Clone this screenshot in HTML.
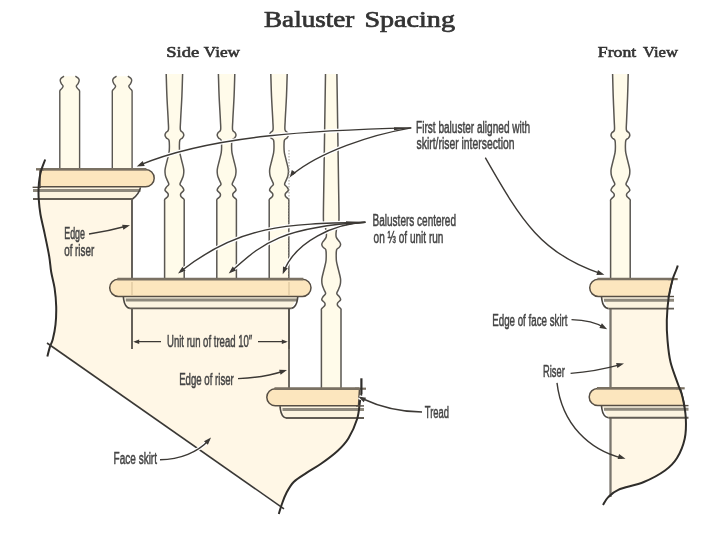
<!DOCTYPE html>
<html><head><meta charset="utf-8"><style>
html,body{margin:0;padding:0;background:#fff;}
svg{display:block;filter:blur(0.3px);}
</style></head><body>
<svg width="720" height="548" viewBox="0 0 720 548">
<rect width="720" height="548" fill="#fff"/>
<path d="M41.40,169.60 C41.08,171.05 39.97,175.20 39.50,178.30 C39.03,181.40 38.73,184.82 38.60,188.20 C38.47,191.58 38.40,194.30 38.70,198.60 C39.00,202.90 39.38,208.03 40.40,214.00 C41.42,219.97 43.33,227.35 44.80,234.40 C46.27,241.45 48.13,250.03 49.20,256.30 C50.27,262.57 50.30,266.68 51.20,272.00 C52.10,277.32 53.77,282.45 54.60,288.20 C55.43,293.95 56.05,300.42 56.20,306.50 C56.35,312.58 56.07,319.23 55.50,324.70 C54.93,330.17 53.72,335.65 52.80,339.30 C51.88,342.95 50.47,345.38 50.00,346.60 L283,507 L281.9,504.0 C282.65,502.17 284.43,496.67 286.40,493.00 C288.37,489.33 290.35,485.35 293.70,482.00 C297.05,478.65 301.95,475.93 306.50,472.90 C311.05,469.87 315.83,467.45 321.00,463.80 C326.17,460.15 332.92,455.27 337.50,451.00 C342.08,446.73 345.22,443.57 348.50,438.20 C351.78,432.83 355.28,424.95 357.20,418.80 C359.12,412.65 359.30,405.43 360.00,401.30 C360.70,397.17 361.17,395.22 361.40,394.00 L361.4,390 L289,390 L289,300 L132,300 L132,170 Z" fill="#fff7e6"/>
<path d="M64.00,76.20 C63.52,76.53 61.73,77.47 61.10,78.20 C60.47,78.93 60.17,79.70 60.20,80.60 C60.23,81.50 60.82,82.70 61.30,83.60 C61.78,84.50 62.97,85.23 63.10,86.00 C63.23,86.77 62.57,87.53 62.10,88.20 C61.63,88.87 60.68,89.50 60.30,90.00 C59.92,90.50 59.88,90.62 59.80,91.20 C59.72,91.78 59.80,93.12 59.80,93.50 L59.80,170.00 L79.60,170.00 L79.60,93.50 C79.60,93.12 79.68,91.78 79.60,91.20 C79.52,90.62 79.48,90.50 79.10,90.00 C78.72,89.50 77.77,88.87 77.30,88.20 C76.83,87.53 76.17,86.77 76.30,86.00 C76.43,85.23 77.62,84.50 78.10,83.60 C78.58,82.70 79.17,81.50 79.20,80.60 C79.23,79.70 78.93,78.93 78.30,78.20 C77.67,77.47 75.88,76.53 75.40,76.20 Z" fill="#fffbea"/>
<path d="M64.00,76.20 C63.52,76.53 61.73,77.47 61.10,78.20 C60.47,78.93 60.17,79.70 60.20,80.60 C60.23,81.50 60.82,82.70 61.30,83.60 C61.78,84.50 62.97,85.23 63.10,86.00 C63.23,86.77 62.57,87.53 62.10,88.20 C61.63,88.87 60.68,89.50 60.30,90.00 C59.92,90.50 59.88,90.62 59.80,91.20 C59.72,91.78 59.80,93.12 59.80,93.50 L59.80,170.00" fill="none" stroke="#5a5752" stroke-width="1.40" />
<path d="M75.40,76.20 C75.88,76.53 77.67,77.47 78.30,78.20 C78.93,78.93 79.23,79.70 79.20,80.60 C79.17,81.50 78.58,82.70 78.10,83.60 C77.62,84.50 76.43,85.23 76.30,86.00 C76.17,86.77 76.83,87.53 77.30,88.20 C77.77,88.87 78.72,89.50 79.10,90.00 C79.48,90.50 79.52,90.62 79.60,91.20 C79.68,91.78 79.60,93.12 79.60,93.50 L79.60,170.00" fill="none" stroke="#5a5752" stroke-width="1.40" />
<path d="M116.50,76.20 C116.02,76.53 114.23,77.47 113.60,78.20 C112.97,78.93 112.67,79.70 112.70,80.60 C112.73,81.50 113.32,82.70 113.80,83.60 C114.28,84.50 115.47,85.23 115.60,86.00 C115.73,86.77 115.07,87.53 114.60,88.20 C114.13,88.87 113.18,89.50 112.80,90.00 C112.42,90.50 112.38,90.62 112.30,91.20 C112.22,91.78 112.30,93.12 112.30,93.50 L112.30,170.00 L132.10,170.00 L132.10,93.50 C132.10,93.12 132.18,91.78 132.10,91.20 C132.02,90.62 131.98,90.50 131.60,90.00 C131.22,89.50 130.27,88.87 129.80,88.20 C129.33,87.53 128.67,86.77 128.80,86.00 C128.93,85.23 130.12,84.50 130.60,83.60 C131.08,82.70 131.67,81.50 131.70,80.60 C131.73,79.70 131.43,78.93 130.80,78.20 C130.17,77.47 128.38,76.53 127.90,76.20 Z" fill="#fffbea"/>
<path d="M116.50,76.20 C116.02,76.53 114.23,77.47 113.60,78.20 C112.97,78.93 112.67,79.70 112.70,80.60 C112.73,81.50 113.32,82.70 113.80,83.60 C114.28,84.50 115.47,85.23 115.60,86.00 C115.73,86.77 115.07,87.53 114.60,88.20 C114.13,88.87 113.18,89.50 112.80,90.00 C112.42,90.50 112.38,90.62 112.30,91.20 C112.22,91.78 112.30,93.12 112.30,93.50 L112.30,170.00" fill="none" stroke="#5a5752" stroke-width="1.40" />
<path d="M127.90,76.20 C128.38,76.53 130.17,77.47 130.80,78.20 C131.43,78.93 131.73,79.70 131.70,80.60 C131.67,81.50 131.08,82.70 130.60,83.60 C130.12,84.50 128.93,85.23 128.80,86.00 C128.67,86.77 129.33,87.53 129.80,88.20 C130.27,88.87 131.22,89.50 131.60,90.00 C131.98,90.50 132.02,90.62 132.10,91.20 C132.18,91.78 132.10,93.12 132.10,93.50 L132.10,170.00" fill="none" stroke="#5a5752" stroke-width="1.40" />
<path d="M166.20,74.00 C166.32,77.67 166.57,88.28 166.90,96.00 C167.23,103.72 167.95,114.65 168.20,120.30 C168.45,125.95 168.78,127.85 168.40,129.90 C168.02,131.95 166.47,131.70 165.90,132.60 C165.33,133.50 164.92,134.40 165.00,135.30 C165.08,136.20 165.73,137.17 166.40,138.00 C167.07,138.83 168.50,138.75 169.00,140.30 C169.50,141.85 169.40,145.22 169.40,147.30 C169.40,149.38 169.37,150.63 169.00,152.80 C168.63,154.97 167.85,157.55 167.20,160.30 C166.55,163.05 165.40,166.80 165.10,169.30 C164.80,171.80 165.02,173.42 165.40,175.30 C165.78,177.18 166.83,179.10 167.40,180.60 C167.97,182.10 168.97,183.22 168.80,184.30 C168.63,185.38 167.03,186.10 166.40,187.10 C165.77,188.10 164.73,189.22 165.00,190.30 C165.27,191.38 167.52,192.60 168.00,193.60 C168.48,194.60 168.32,195.47 167.90,196.30 C167.48,197.13 166.05,198.00 165.50,198.60 C164.95,199.20 164.75,199.45 164.60,199.90 C164.45,200.35 164.60,201.07 164.60,201.30 L164.60,280.00 L184.20,280.00 L184.20,201.30 C184.20,201.07 184.35,200.35 184.20,199.90 C184.05,199.45 183.85,199.20 183.30,198.60 C182.75,198.00 181.32,197.13 180.90,196.30 C180.48,195.47 180.32,194.60 180.80,193.60 C181.28,192.60 183.53,191.38 183.80,190.30 C184.07,189.22 183.03,188.10 182.40,187.10 C181.77,186.10 180.17,185.38 180.00,184.30 C179.83,183.22 180.83,182.10 181.40,180.60 C181.97,179.10 183.02,177.18 183.40,175.30 C183.78,173.42 184.00,171.80 183.70,169.30 C183.40,166.80 182.25,163.05 181.60,160.30 C180.95,157.55 180.17,154.97 179.80,152.80 C179.43,150.63 179.40,149.38 179.40,147.30 C179.40,145.22 179.30,141.85 179.80,140.30 C180.30,138.75 181.73,138.83 182.40,138.00 C183.07,137.17 183.72,136.20 183.80,135.30 C183.88,134.40 183.47,133.50 182.90,132.60 C182.33,131.70 180.78,131.95 180.40,129.90 C180.02,127.85 180.35,125.95 180.60,120.30 C180.85,114.65 181.57,103.72 181.90,96.00 C182.23,88.28 182.48,77.67 182.60,74.00 Z" fill="#fffbea"/>
<path d="M166.20,74.00 C166.32,77.67 166.57,88.28 166.90,96.00 C167.23,103.72 167.95,114.65 168.20,120.30 C168.45,125.95 168.78,127.85 168.40,129.90 C168.02,131.95 166.47,131.70 165.90,132.60 C165.33,133.50 164.92,134.40 165.00,135.30 C165.08,136.20 165.73,137.17 166.40,138.00 C167.07,138.83 168.50,138.75 169.00,140.30 C169.50,141.85 169.40,145.22 169.40,147.30 C169.40,149.38 169.37,150.63 169.00,152.80 C168.63,154.97 167.85,157.55 167.20,160.30 C166.55,163.05 165.40,166.80 165.10,169.30 C164.80,171.80 165.02,173.42 165.40,175.30 C165.78,177.18 166.83,179.10 167.40,180.60 C167.97,182.10 168.97,183.22 168.80,184.30 C168.63,185.38 167.03,186.10 166.40,187.10 C165.77,188.10 164.73,189.22 165.00,190.30 C165.27,191.38 167.52,192.60 168.00,193.60 C168.48,194.60 168.32,195.47 167.90,196.30 C167.48,197.13 166.05,198.00 165.50,198.60 C164.95,199.20 164.75,199.45 164.60,199.90 C164.45,200.35 164.60,201.07 164.60,201.30 L164.60,280.00" fill="none" stroke="#5a5752" stroke-width="1.5"/>
<path d="M182.60,74.00 C182.48,77.67 182.23,88.28 181.90,96.00 C181.57,103.72 180.85,114.65 180.60,120.30 C180.35,125.95 180.02,127.85 180.40,129.90 C180.78,131.95 182.33,131.70 182.90,132.60 C183.47,133.50 183.88,134.40 183.80,135.30 C183.72,136.20 183.07,137.17 182.40,138.00 C181.73,138.83 180.30,138.75 179.80,140.30 C179.30,141.85 179.40,145.22 179.40,147.30 C179.40,149.38 179.43,150.63 179.80,152.80 C180.17,154.97 180.95,157.55 181.60,160.30 C182.25,163.05 183.40,166.80 183.70,169.30 C184.00,171.80 183.78,173.42 183.40,175.30 C183.02,177.18 181.97,179.10 181.40,180.60 C180.83,182.10 179.83,183.22 180.00,184.30 C180.17,185.38 181.77,186.10 182.40,187.10 C183.03,188.10 184.07,189.22 183.80,190.30 C183.53,191.38 181.28,192.60 180.80,193.60 C180.32,194.60 180.48,195.47 180.90,196.30 C181.32,197.13 182.75,198.00 183.30,198.60 C183.85,199.20 184.05,199.45 184.20,199.90 C184.35,200.35 184.20,201.07 184.20,201.30 L184.20,280.00" fill="none" stroke="#5a5752" stroke-width="1.5"/>
<path d="M218.40,74.00 C218.52,77.67 218.77,88.28 219.10,96.00 C219.43,103.72 220.15,114.65 220.40,120.30 C220.65,125.95 220.98,127.85 220.60,129.90 C220.22,131.95 218.67,131.70 218.10,132.60 C217.53,133.50 217.12,134.40 217.20,135.30 C217.28,136.20 217.93,137.17 218.60,138.00 C219.27,138.83 220.70,138.75 221.20,140.30 C221.70,141.85 221.60,145.22 221.60,147.30 C221.60,149.38 221.57,150.63 221.20,152.80 C220.83,154.97 220.05,157.55 219.40,160.30 C218.75,163.05 217.60,166.80 217.30,169.30 C217.00,171.80 217.22,173.42 217.60,175.30 C217.98,177.18 219.03,179.10 219.60,180.60 C220.17,182.10 221.17,183.22 221.00,184.30 C220.83,185.38 219.23,186.10 218.60,187.10 C217.97,188.10 216.93,189.22 217.20,190.30 C217.47,191.38 219.72,192.60 220.20,193.60 C220.68,194.60 220.52,195.47 220.10,196.30 C219.68,197.13 218.25,198.00 217.70,198.60 C217.15,199.20 216.95,199.45 216.80,199.90 C216.65,200.35 216.80,201.07 216.80,201.30 L216.80,280.00 L236.40,280.00 L236.40,201.30 C236.40,201.07 236.55,200.35 236.40,199.90 C236.25,199.45 236.05,199.20 235.50,198.60 C234.95,198.00 233.52,197.13 233.10,196.30 C232.68,195.47 232.52,194.60 233.00,193.60 C233.48,192.60 235.73,191.38 236.00,190.30 C236.27,189.22 235.23,188.10 234.60,187.10 C233.97,186.10 232.37,185.38 232.20,184.30 C232.03,183.22 233.03,182.10 233.60,180.60 C234.17,179.10 235.22,177.18 235.60,175.30 C235.98,173.42 236.20,171.80 235.90,169.30 C235.60,166.80 234.45,163.05 233.80,160.30 C233.15,157.55 232.37,154.97 232.00,152.80 C231.63,150.63 231.60,149.38 231.60,147.30 C231.60,145.22 231.50,141.85 232.00,140.30 C232.50,138.75 233.93,138.83 234.60,138.00 C235.27,137.17 235.92,136.20 236.00,135.30 C236.08,134.40 235.67,133.50 235.10,132.60 C234.53,131.70 232.98,131.95 232.60,129.90 C232.22,127.85 232.55,125.95 232.80,120.30 C233.05,114.65 233.77,103.72 234.10,96.00 C234.43,88.28 234.68,77.67 234.80,74.00 Z" fill="#fffbea"/>
<path d="M218.40,74.00 C218.52,77.67 218.77,88.28 219.10,96.00 C219.43,103.72 220.15,114.65 220.40,120.30 C220.65,125.95 220.98,127.85 220.60,129.90 C220.22,131.95 218.67,131.70 218.10,132.60 C217.53,133.50 217.12,134.40 217.20,135.30 C217.28,136.20 217.93,137.17 218.60,138.00 C219.27,138.83 220.70,138.75 221.20,140.30 C221.70,141.85 221.60,145.22 221.60,147.30 C221.60,149.38 221.57,150.63 221.20,152.80 C220.83,154.97 220.05,157.55 219.40,160.30 C218.75,163.05 217.60,166.80 217.30,169.30 C217.00,171.80 217.22,173.42 217.60,175.30 C217.98,177.18 219.03,179.10 219.60,180.60 C220.17,182.10 221.17,183.22 221.00,184.30 C220.83,185.38 219.23,186.10 218.60,187.10 C217.97,188.10 216.93,189.22 217.20,190.30 C217.47,191.38 219.72,192.60 220.20,193.60 C220.68,194.60 220.52,195.47 220.10,196.30 C219.68,197.13 218.25,198.00 217.70,198.60 C217.15,199.20 216.95,199.45 216.80,199.90 C216.65,200.35 216.80,201.07 216.80,201.30 L216.80,280.00" fill="none" stroke="#5a5752" stroke-width="1.5"/>
<path d="M234.80,74.00 C234.68,77.67 234.43,88.28 234.10,96.00 C233.77,103.72 233.05,114.65 232.80,120.30 C232.55,125.95 232.22,127.85 232.60,129.90 C232.98,131.95 234.53,131.70 235.10,132.60 C235.67,133.50 236.08,134.40 236.00,135.30 C235.92,136.20 235.27,137.17 234.60,138.00 C233.93,138.83 232.50,138.75 232.00,140.30 C231.50,141.85 231.60,145.22 231.60,147.30 C231.60,149.38 231.63,150.63 232.00,152.80 C232.37,154.97 233.15,157.55 233.80,160.30 C234.45,163.05 235.60,166.80 235.90,169.30 C236.20,171.80 235.98,173.42 235.60,175.30 C235.22,177.18 234.17,179.10 233.60,180.60 C233.03,182.10 232.03,183.22 232.20,184.30 C232.37,185.38 233.97,186.10 234.60,187.10 C235.23,188.10 236.27,189.22 236.00,190.30 C235.73,191.38 233.48,192.60 233.00,193.60 C232.52,194.60 232.68,195.47 233.10,196.30 C233.52,197.13 234.95,198.00 235.50,198.60 C236.05,199.20 236.25,199.45 236.40,199.90 C236.55,200.35 236.40,201.07 236.40,201.30 L236.40,280.00" fill="none" stroke="#5a5752" stroke-width="1.5"/>
<path d="M270.80,74.00 C270.92,77.67 271.17,88.28 271.50,96.00 C271.83,103.72 272.55,114.65 272.80,120.30 C273.05,125.95 273.38,127.85 273.00,129.90 C272.62,131.95 271.07,131.70 270.50,132.60 C269.93,133.50 269.52,134.40 269.60,135.30 C269.68,136.20 270.33,137.17 271.00,138.00 C271.67,138.83 273.10,138.75 273.60,140.30 C274.10,141.85 274.00,145.22 274.00,147.30 C274.00,149.38 273.97,150.63 273.60,152.80 C273.23,154.97 272.45,157.55 271.80,160.30 C271.15,163.05 270.00,166.80 269.70,169.30 C269.40,171.80 269.62,173.42 270.00,175.30 C270.38,177.18 271.43,179.10 272.00,180.60 C272.57,182.10 273.57,183.22 273.40,184.30 C273.23,185.38 271.63,186.10 271.00,187.10 C270.37,188.10 269.33,189.22 269.60,190.30 C269.87,191.38 272.12,192.60 272.60,193.60 C273.08,194.60 272.92,195.47 272.50,196.30 C272.08,197.13 270.65,198.00 270.10,198.60 C269.55,199.20 269.35,199.45 269.20,199.90 C269.05,200.35 269.20,201.07 269.20,201.30 L269.20,280.00 L288.80,280.00 L288.80,201.30 C288.80,201.07 288.95,200.35 288.80,199.90 C288.65,199.45 288.45,199.20 287.90,198.60 C287.35,198.00 285.92,197.13 285.50,196.30 C285.08,195.47 284.92,194.60 285.40,193.60 C285.88,192.60 288.13,191.38 288.40,190.30 C288.67,189.22 287.63,188.10 287.00,187.10 C286.37,186.10 284.77,185.38 284.60,184.30 C284.43,183.22 285.43,182.10 286.00,180.60 C286.57,179.10 287.62,177.18 288.00,175.30 C288.38,173.42 288.60,171.80 288.30,169.30 C288.00,166.80 286.85,163.05 286.20,160.30 C285.55,157.55 284.77,154.97 284.40,152.80 C284.03,150.63 284.00,149.38 284.00,147.30 C284.00,145.22 283.90,141.85 284.40,140.30 C284.90,138.75 286.33,138.83 287.00,138.00 C287.67,137.17 288.32,136.20 288.40,135.30 C288.48,134.40 288.07,133.50 287.50,132.60 C286.93,131.70 285.38,131.95 285.00,129.90 C284.62,127.85 284.95,125.95 285.20,120.30 C285.45,114.65 286.17,103.72 286.50,96.00 C286.83,88.28 287.08,77.67 287.20,74.00 Z" fill="#fffbea"/>
<path d="M270.80,74.00 C270.92,77.67 271.17,88.28 271.50,96.00 C271.83,103.72 272.55,114.65 272.80,120.30 C273.05,125.95 273.38,127.85 273.00,129.90 C272.62,131.95 271.07,131.70 270.50,132.60 C269.93,133.50 269.52,134.40 269.60,135.30 C269.68,136.20 270.33,137.17 271.00,138.00 C271.67,138.83 273.10,138.75 273.60,140.30 C274.10,141.85 274.00,145.22 274.00,147.30 C274.00,149.38 273.97,150.63 273.60,152.80 C273.23,154.97 272.45,157.55 271.80,160.30 C271.15,163.05 270.00,166.80 269.70,169.30 C269.40,171.80 269.62,173.42 270.00,175.30 C270.38,177.18 271.43,179.10 272.00,180.60 C272.57,182.10 273.57,183.22 273.40,184.30 C273.23,185.38 271.63,186.10 271.00,187.10 C270.37,188.10 269.33,189.22 269.60,190.30 C269.87,191.38 272.12,192.60 272.60,193.60 C273.08,194.60 272.92,195.47 272.50,196.30 C272.08,197.13 270.65,198.00 270.10,198.60 C269.55,199.20 269.35,199.45 269.20,199.90 C269.05,200.35 269.20,201.07 269.20,201.30 L269.20,280.00" fill="none" stroke="#5a5752" stroke-width="1.5"/>
<path d="M287.20,74.00 C287.08,77.67 286.83,88.28 286.50,96.00 C286.17,103.72 285.45,114.65 285.20,120.30 C284.95,125.95 284.62,127.85 285.00,129.90 C285.38,131.95 286.93,131.70 287.50,132.60 C288.07,133.50 288.48,134.40 288.40,135.30 C288.32,136.20 287.67,137.17 287.00,138.00 C286.33,138.83 284.90,138.75 284.40,140.30 C283.90,141.85 284.00,145.22 284.00,147.30 C284.00,149.38 284.03,150.63 284.40,152.80 C284.77,154.97 285.55,157.55 286.20,160.30 C286.85,163.05 288.00,166.80 288.30,169.30 C288.60,171.80 288.38,173.42 288.00,175.30 C287.62,177.18 286.57,179.10 286.00,180.60 C285.43,182.10 284.43,183.22 284.60,184.30 C284.77,185.38 286.37,186.10 287.00,187.10 C287.63,188.10 288.67,189.22 288.40,190.30 C288.13,191.38 285.88,192.60 285.40,193.60 C284.92,194.60 285.08,195.47 285.50,196.30 C285.92,197.13 287.35,198.00 287.90,198.60 C288.45,199.20 288.65,199.45 288.80,199.90 C288.95,200.35 288.80,201.07 288.80,201.30 L288.80,280.00" fill="none" stroke="#5a5752" stroke-width="1.5"/>
<path d="M325.50,74.00 C325.38,81.67 325.07,102.33 324.80,120.00 C324.53,137.67 324.13,163.67 323.90,180.00 C323.67,196.33 323.35,210.67 323.40,218.00 C323.45,225.33 323.77,222.00 324.20,224.00 C324.63,226.00 325.67,227.83 326.00,230.00 C326.33,232.17 326.75,235.00 326.20,237.00 C325.65,239.00 323.43,240.72 322.70,242.00 C321.97,243.28 321.72,243.80 321.80,244.70 C321.88,245.60 322.53,246.57 323.20,247.40 C323.87,248.23 325.30,248.15 325.80,249.70 C326.30,251.25 326.20,254.62 326.20,256.70 C326.20,258.78 326.17,260.03 325.80,262.20 C325.43,264.37 324.65,266.95 324.00,269.70 C323.35,272.45 322.20,276.20 321.90,278.70 C321.60,281.20 321.82,282.82 322.20,284.70 C322.58,286.58 323.63,288.50 324.20,290.00 C324.77,291.50 325.77,292.62 325.60,293.70 C325.43,294.78 323.83,295.50 323.20,296.50 C322.57,297.50 321.53,298.62 321.80,299.70 C322.07,300.78 324.32,302.00 324.80,303.00 C325.28,304.00 325.12,304.87 324.70,305.70 C324.28,306.53 322.85,307.40 322.30,308.00 C321.75,308.60 321.55,308.85 321.40,309.30 C321.25,309.75 321.40,310.47 321.40,310.70 L321.40,390.00 L341.00,390.00 L341.00,310.70 C341.00,310.47 341.15,309.75 341.00,309.30 C340.85,308.85 340.65,308.60 340.10,308.00 C339.55,307.40 338.12,306.53 337.70,305.70 C337.28,304.87 337.12,304.00 337.60,303.00 C338.08,302.00 340.33,300.78 340.60,299.70 C340.87,298.62 339.83,297.50 339.20,296.50 C338.57,295.50 336.97,294.78 336.80,293.70 C336.63,292.62 337.63,291.50 338.20,290.00 C338.77,288.50 339.82,286.58 340.20,284.70 C340.58,282.82 340.80,281.20 340.50,278.70 C340.20,276.20 339.05,272.45 338.40,269.70 C337.75,266.95 336.97,264.37 336.60,262.20 C336.23,260.03 336.20,258.78 336.20,256.70 C336.20,254.62 336.10,251.25 336.60,249.70 C337.10,248.15 338.53,248.23 339.20,247.40 C339.87,246.57 340.52,245.60 340.60,244.70 C340.68,243.80 340.43,243.28 339.70,242.00 C338.97,240.72 336.75,239.00 336.20,237.00 C335.65,235.00 336.07,232.17 336.40,230.00 C336.73,227.83 337.77,226.00 338.20,224.00 C338.63,222.00 338.95,225.33 339.00,218.00 C339.05,210.67 338.73,196.33 338.50,180.00 C338.27,163.67 337.87,137.67 337.60,120.00 C337.33,102.33 337.02,81.67 336.90,74.00 Z" fill="#fffbea"/>
<path d="M325.50,74.00 C325.38,81.67 325.07,102.33 324.80,120.00 C324.53,137.67 324.13,163.67 323.90,180.00 C323.67,196.33 323.35,210.67 323.40,218.00 C323.45,225.33 323.77,222.00 324.20,224.00 C324.63,226.00 325.67,227.83 326.00,230.00 C326.33,232.17 326.75,235.00 326.20,237.00 C325.65,239.00 323.43,240.72 322.70,242.00 C321.97,243.28 321.72,243.80 321.80,244.70 C321.88,245.60 322.53,246.57 323.20,247.40 C323.87,248.23 325.30,248.15 325.80,249.70 C326.30,251.25 326.20,254.62 326.20,256.70 C326.20,258.78 326.17,260.03 325.80,262.20 C325.43,264.37 324.65,266.95 324.00,269.70 C323.35,272.45 322.20,276.20 321.90,278.70 C321.60,281.20 321.82,282.82 322.20,284.70 C322.58,286.58 323.63,288.50 324.20,290.00 C324.77,291.50 325.77,292.62 325.60,293.70 C325.43,294.78 323.83,295.50 323.20,296.50 C322.57,297.50 321.53,298.62 321.80,299.70 C322.07,300.78 324.32,302.00 324.80,303.00 C325.28,304.00 325.12,304.87 324.70,305.70 C324.28,306.53 322.85,307.40 322.30,308.00 C321.75,308.60 321.55,308.85 321.40,309.30 C321.25,309.75 321.40,310.47 321.40,310.70 L321.40,390.00" fill="none" stroke="#5a5752" stroke-width="1.5"/>
<path d="M336.90,74.00 C337.02,81.67 337.33,102.33 337.60,120.00 C337.87,137.67 338.27,163.67 338.50,180.00 C338.73,196.33 339.05,210.67 339.00,218.00 C338.95,225.33 338.63,222.00 338.20,224.00 C337.77,226.00 336.73,227.83 336.40,230.00 C336.07,232.17 335.65,235.00 336.20,237.00 C336.75,239.00 338.97,240.72 339.70,242.00 C340.43,243.28 340.68,243.80 340.60,244.70 C340.52,245.60 339.87,246.57 339.20,247.40 C338.53,248.23 337.10,248.15 336.60,249.70 C336.10,251.25 336.20,254.62 336.20,256.70 C336.20,258.78 336.23,260.03 336.60,262.20 C336.97,264.37 337.75,266.95 338.40,269.70 C339.05,272.45 340.20,276.20 340.50,278.70 C340.80,281.20 340.58,282.82 340.20,284.70 C339.82,286.58 338.77,288.50 338.20,290.00 C337.63,291.50 336.63,292.62 336.80,293.70 C336.97,294.78 338.57,295.50 339.20,296.50 C339.83,297.50 340.87,298.62 340.60,299.70 C340.33,300.78 338.08,302.00 337.60,303.00 C337.12,304.00 337.28,304.87 337.70,305.70 C338.12,306.53 339.55,307.40 340.10,308.00 C340.65,308.60 340.85,308.85 341.00,309.30 C341.15,309.75 341.00,310.47 341.00,310.70 L341.00,390.00" fill="none" stroke="#5a5752" stroke-width="1.5"/>
<path d="M132,198 L132,349" fill="none" stroke="#4a4640" stroke-width="1.70" />
<path d="M289,306 L289,390" fill="none" stroke="#6e6a62" stroke-width="2.00" />
<path d="M289,150 L289,279" fill="none" stroke="#9a968e" stroke-width="0.90" stroke-dasharray="1.5,1.5"/>
<path d="M38.6,186.8 L140.5,186.8 L132.5,198.8 L38.6,198.8 Z" fill="#fcf4e0"/>
<path d="M33.0,190.6 L140.5,190.6" fill="none" stroke="#8e897d" stroke-width="3.00" />
<path d="M33.0,199.0 L132.5,199.0" fill="none" stroke="#625d55" stroke-width="1.90" />
<path d="M140.5,187.4 C139.5,192 136,196.5 132.5,199" fill="none" stroke="#4a4640" stroke-width="1.60" />
<path d="M40.00,169.50 L145.55,169.50 A8.65,8.65 0 0 1 145.55,186.80 L40.00,186.80 Z" fill="#fce6be" stroke="#564e44" stroke-width="1.5"/>
<path d="M40.00,169.30 L146.41,169.30" fill="none" stroke="#7a7163" stroke-width="2.60" />
<path d="M36,169.3 L44,169.3" fill="none" stroke="#7a7163" stroke-width="2.40" />
<path d="M32.6,187.3 L41,187.3" fill="none" stroke="#564e44" stroke-width="1.40" />
<path d="M123.3,296.2 L297.8,296.2 L291.3,308.2 L129.8,308.2 Z" fill="#fcf4e0"/>
<path d="M125.8,300.0 L297.8,300.0" fill="none" stroke="#8e897d" stroke-width="3.00" />
<path d="M129.8,308.4 L291.3,308.4" fill="none" stroke="#625d55" stroke-width="1.90" />
<path d="M123.3,296.5 L123.7,299.7 C124.5,305.2 126.8,307.8 129.8,308.4" fill="none" stroke="#4a4640" stroke-width="1.60" />
<path d="M297.8,296.5 L297.4,299.7 C296.6,305.2 294.3,307.8 291.3,308.4" fill="none" stroke="#4a4640" stroke-width="1.60" />
<path d="M118.25,279.30 L302.45,279.30 A8.55,8.55 0 0 1 302.45,296.40 L118.25,296.40 A8.55,8.55 0 0 1 118.25,279.30 Z" fill="#fce6be" stroke="#564e44" stroke-width="1.5"/>
<path d="M117.39,279.10 L303.31,279.10" fill="none" stroke="#7a7163" stroke-width="2.60" />
<path d="M132,282 L132,296" fill="none" stroke="#d4bd95" stroke-width="1.00" />
<path d="M289,282 L289,296" fill="none" stroke="#d4bd95" stroke-width="1.00" />
<path d="M280.0,405.8 L358.5,405.8 L357.2,417.8 L286.0,417.8 Z" fill="#fcf4e0"/>
<path d="M282.5,409.6 L364.0,409.6" fill="none" stroke="#8e897d" stroke-width="3.00" />
<path d="M286.0,418.0 L364.0,418.0" fill="none" stroke="#625d55" stroke-width="1.90" />
<path d="M280.0,406.1 L280.4,409.3 C281.2,414.8 283.5,417.4 286.0,418.0" fill="none" stroke="#4a4640" stroke-width="1.60" />
<path d="M275.30,388.80 L359.50,388.80 L358.50,405.80 L275.30,405.80 A8.50,8.50 0 0 1 275.30,388.80 Z" fill="#fce6be" stroke="#564e44" stroke-width="1.5"/>
<path d="M274.45,388.60 L359.50,388.60" fill="none" stroke="#7a7163" stroke-width="2.60" />
<path d="M355,388.7 L366,388.7" fill="none" stroke="#7a7163" stroke-width="2.20" />
<path d="M45.20,159.50 C44.57,161.18 42.35,166.47 41.40,169.60 C40.45,172.73 39.97,175.20 39.50,178.30 C39.03,181.40 38.73,184.82 38.60,188.20 C38.47,191.58 38.40,194.30 38.70,198.60 C39.00,202.90 39.38,208.03 40.40,214.00 C41.42,219.97 43.33,227.35 44.80,234.40 C46.27,241.45 48.13,250.03 49.20,256.30 C50.27,262.57 50.30,266.68 51.20,272.00 C52.10,277.32 53.77,282.45 54.60,288.20 C55.43,293.95 56.05,300.42 56.20,306.50 C56.35,312.58 56.07,319.23 55.50,324.70 C54.93,330.17 53.72,335.65 52.80,339.30 C51.88,342.95 50.92,343.72 50.00,346.60 C49.08,349.48 47.75,354.93 47.30,356.60" fill="none" stroke="#2f2d2a" stroke-width="2.00" />
<path d="M47,343 L284,508.8" fill="none" stroke="#3a3835" stroke-width="1.60" />
<path d="M361.4,378.3 L361.4,394" fill="none" stroke="#2f2d2a" stroke-width="2.20" />
<path d="M361.40,394.00 C361.17,395.22 360.70,397.17 360.00,401.30 C359.30,405.43 359.12,412.65 357.20,418.80 C355.28,424.95 351.78,432.83 348.50,438.20 C345.22,443.57 342.08,446.73 337.50,451.00 C332.92,455.27 326.17,460.15 321.00,463.80 C315.83,467.45 311.05,469.87 306.50,472.90 C301.95,475.93 297.05,478.65 293.70,482.00 C290.35,485.35 288.37,489.33 286.40,493.00 C284.43,496.67 283.17,500.50 281.90,504.00 C280.63,507.50 279.32,512.33 278.80,514.00" fill="none" stroke="#2f2d2a" stroke-width="2.00" />
<path d="M289,308 L289,349" fill="none" stroke="#4a4640" stroke-width="1.00" />
<path d="M135,341.7 L161,341.7 M258,341.7 L286,341.7" fill="none" stroke="#3c3935" stroke-width="1.30" />
<path d="M133.2,341.7 L139.2,339.4 L139.2,344.0 Z" fill="#3c3935"/>
<path d="M287.8,341.7 L281.8,344.0 L281.8,339.4 Z" fill="#3c3935"/>
<path d="M668.70,297.20 C668.38,301.00 667.00,312.87 666.80,320.00 C666.60,327.13 666.88,333.00 667.50,340.00 C668.12,347.00 668.70,354.50 670.50,362.00 C672.30,369.50 676.30,379.17 678.30,385.00 C680.30,390.83 681.25,391.50 682.50,397.00 C683.75,402.50 685.43,411.05 685.80,418.00 C686.17,424.95 686.17,432.03 684.70,438.70 C683.23,445.37 680.28,452.70 677.00,458.00 C673.72,463.30 670.53,466.50 665.00,470.50 C659.47,474.50 651.58,478.78 643.80,482.00 C636.02,485.22 624.27,487.23 618.30,489.80 C612.33,492.37 609.72,496.13 608.00,497.40 L610.6,497 L610.6,296 Z" fill="#fff7e6"/>
<path d="M612.60,74.00 C612.70,77.67 612.93,88.27 613.20,96.00 C613.47,103.73 614.00,114.73 614.20,120.40 C614.40,126.07 614.78,127.95 614.40,130.00 C614.02,132.05 612.47,131.80 611.90,132.70 C611.33,133.60 610.92,134.50 611.00,135.40 C611.08,136.30 611.73,137.27 612.40,138.10 C613.07,138.93 614.50,138.85 615.00,140.40 C615.50,141.95 615.40,145.32 615.40,147.40 C615.40,149.48 615.37,150.73 615.00,152.90 C614.63,155.07 613.85,157.65 613.20,160.40 C612.55,163.15 611.40,166.90 611.10,169.40 C610.80,171.90 611.02,173.52 611.40,175.40 C611.78,177.28 612.83,179.20 613.40,180.70 C613.97,182.20 614.97,183.32 614.80,184.40 C614.63,185.48 613.03,186.20 612.40,187.20 C611.77,188.20 610.73,189.32 611.00,190.40 C611.27,191.48 613.52,192.70 614.00,193.70 C614.48,194.70 614.32,195.57 613.90,196.40 C613.48,197.23 612.05,198.10 611.50,198.70 C610.95,199.30 610.75,199.55 610.60,200.00 C610.45,200.45 610.60,201.17 610.60,201.40 L610.60,280.00 L630.20,280.00 L630.20,201.40 C630.20,201.17 630.35,200.45 630.20,200.00 C630.05,199.55 629.85,199.30 629.30,198.70 C628.75,198.10 627.32,197.23 626.90,196.40 C626.48,195.57 626.32,194.70 626.80,193.70 C627.28,192.70 629.53,191.48 629.80,190.40 C630.07,189.32 629.03,188.20 628.40,187.20 C627.77,186.20 626.17,185.48 626.00,184.40 C625.83,183.32 626.83,182.20 627.40,180.70 C627.97,179.20 629.02,177.28 629.40,175.40 C629.78,173.52 630.00,171.90 629.70,169.40 C629.40,166.90 628.25,163.15 627.60,160.40 C626.95,157.65 626.17,155.07 625.80,152.90 C625.43,150.73 625.40,149.48 625.40,147.40 C625.40,145.32 625.30,141.95 625.80,140.40 C626.30,138.85 627.73,138.93 628.40,138.10 C629.07,137.27 629.72,136.30 629.80,135.40 C629.88,134.50 629.47,133.60 628.90,132.70 C628.33,131.80 626.78,132.05 626.40,130.00 C626.02,127.95 626.40,126.07 626.60,120.40 C626.80,114.73 627.33,103.73 627.60,96.00 C627.87,88.27 628.10,77.67 628.20,74.00 Z" fill="#fffbea"/>
<path d="M612.60,74.00 C612.70,77.67 612.93,88.27 613.20,96.00 C613.47,103.73 614.00,114.73 614.20,120.40 C614.40,126.07 614.78,127.95 614.40,130.00 C614.02,132.05 612.47,131.80 611.90,132.70 C611.33,133.60 610.92,134.50 611.00,135.40 C611.08,136.30 611.73,137.27 612.40,138.10 C613.07,138.93 614.50,138.85 615.00,140.40 C615.50,141.95 615.40,145.32 615.40,147.40 C615.40,149.48 615.37,150.73 615.00,152.90 C614.63,155.07 613.85,157.65 613.20,160.40 C612.55,163.15 611.40,166.90 611.10,169.40 C610.80,171.90 611.02,173.52 611.40,175.40 C611.78,177.28 612.83,179.20 613.40,180.70 C613.97,182.20 614.97,183.32 614.80,184.40 C614.63,185.48 613.03,186.20 612.40,187.20 C611.77,188.20 610.73,189.32 611.00,190.40 C611.27,191.48 613.52,192.70 614.00,193.70 C614.48,194.70 614.32,195.57 613.90,196.40 C613.48,197.23 612.05,198.10 611.50,198.70 C610.95,199.30 610.75,199.55 610.60,200.00 C610.45,200.45 610.60,201.17 610.60,201.40 L610.60,280.00" fill="none" stroke="#5a5752" stroke-width="1.5"/>
<path d="M628.20,74.00 C628.10,77.67 627.87,88.27 627.60,96.00 C627.33,103.73 626.80,114.73 626.60,120.40 C626.40,126.07 626.02,127.95 626.40,130.00 C626.78,132.05 628.33,131.80 628.90,132.70 C629.47,133.60 629.88,134.50 629.80,135.40 C629.72,136.30 629.07,137.27 628.40,138.10 C627.73,138.93 626.30,138.85 625.80,140.40 C625.30,141.95 625.40,145.32 625.40,147.40 C625.40,149.48 625.43,150.73 625.80,152.90 C626.17,155.07 626.95,157.65 627.60,160.40 C628.25,163.15 629.40,166.90 629.70,169.40 C630.00,171.90 629.78,173.52 629.40,175.40 C629.02,177.28 627.97,179.20 627.40,180.70 C626.83,182.20 625.83,183.32 626.00,184.40 C626.17,185.48 627.77,186.20 628.40,187.20 C629.03,188.20 630.07,189.32 629.80,190.40 C629.53,191.48 627.28,192.70 626.80,193.70 C626.32,194.70 626.48,195.57 626.90,196.40 C627.32,197.23 628.75,198.10 629.30,198.70 C629.85,199.30 630.05,199.55 630.20,200.00 C630.35,200.45 630.20,201.17 630.20,201.40 L630.20,280.00" fill="none" stroke="#5a5752" stroke-width="1.5"/>
<path d="M610.5,306 L610.5,497" fill="none" stroke="#7a766e" stroke-width="2.30" />
<path d="M601.5,296.4 L668.8,296.4 L667.4,308.4 L608.5,308.4 Z" fill="#fcf4e0"/>
<path d="M604.0,300.2 L674.0,300.2" fill="none" stroke="#8e897d" stroke-width="3.00" />
<path d="M608.5,308.6 L674.0,308.6" fill="none" stroke="#625d55" stroke-width="1.90" />
<path d="M601.5,296.7 L601.9,299.9 C602.7,305.4 605.0,308.0 608.5,308.6" fill="none" stroke="#4a4640" stroke-width="1.60" />
<path d="M598.30,279.20 L672.60,279.20 L668.80,296.40 L598.30,296.40 A8.60,8.60 0 0 1 598.30,279.20 Z" fill="#fce6be" stroke="#564e44" stroke-width="1.5"/>
<path d="M597.44,279.00 L672.60,279.00" fill="none" stroke="#7a7163" stroke-width="2.60" />
<path d="M668,279.1 L677.7,279.1" fill="none" stroke="#7a7163" stroke-width="2.20" />
<path d="M601.5,405.5 L685.5,405.5 L685.8,417.5 L608.5,417.5 Z" fill="#fcf4e0"/>
<path d="M604.0,409.3 L688.5,409.3" fill="none" stroke="#8e897d" stroke-width="3.00" />
<path d="M608.5,417.7 L688.5,417.7" fill="none" stroke="#625d55" stroke-width="1.90" />
<path d="M601.5,405.8 L601.9,409.0 C602.7,414.5 605.0,417.1 608.5,417.7" fill="none" stroke="#4a4640" stroke-width="1.60" />
<path d="M597.75,388.40 L680.60,388.40 L684.60,405.50 L597.75,405.50 A8.55,8.55 0 0 1 597.75,388.40 Z" fill="#fce6be" stroke="#564e44" stroke-width="1.5"/>
<path d="M596.90,388.20 L680.60,388.20" fill="none" stroke="#7a7163" stroke-width="2.60" />
<path d="M676,388.3 L684.7,388.3" fill="none" stroke="#7a7163" stroke-width="2.20" />
<path d="M667,296.5 L674,296.5" fill="none" stroke="#564e44" stroke-width="1.40" />
<path d="M683,405.6 L688.5,405.6" fill="none" stroke="#564e44" stroke-width="1.40" />
<path d="M356,405.9 L364,405.9" fill="none" stroke="#564e44" stroke-width="1.40" />
<path d="M677.80,265.50 C677.53,266.25 677.07,267.68 676.20,270.00 C675.33,272.32 673.85,274.87 672.60,279.40 C671.35,283.93 669.67,290.43 668.70,297.20 C667.73,303.97 667.00,312.87 666.80,320.00 C666.60,327.13 666.88,333.00 667.50,340.00 C668.12,347.00 668.70,354.50 670.50,362.00 C672.30,369.50 676.30,379.17 678.30,385.00 C680.30,390.83 681.25,391.50 682.50,397.00 C683.75,402.50 685.43,411.05 685.80,418.00 C686.17,424.95 686.17,432.03 684.70,438.70 C683.23,445.37 680.28,452.70 677.00,458.00 C673.72,463.30 670.53,466.50 665.00,470.50 C659.47,474.50 651.58,478.78 643.80,482.00 C636.02,485.22 624.27,487.23 618.30,489.80 C612.33,492.37 610.55,494.87 608.00,497.40 C605.45,499.93 603.83,503.73 603.00,505.00" fill="none" stroke="#2f2d2a" stroke-width="2.00" />
<path d="M411.25,127.90 C317.80,130.10 211.90,135.00 139.50,165.20" fill="none" stroke="#fff" stroke-width="4.0"/>
<path d="M411.25,127.9 C370,135 320,152 292.5,174.5" fill="none" stroke="#fff" stroke-width="4.0"/>
<path d="M365.40,222.30 C285.20,223.90 239.30,225.20 180.50,271.50" fill="none" stroke="#fff" stroke-width="4.0"/>
<path d="M365.40,222.30 C274.90,227.20 258.80,247.60 231.00,271.50" fill="none" stroke="#fff" stroke-width="4.0"/>
<path d="M365.40,222.30 C335.20,223.50 295.60,240.80 283.80,271.50" fill="none" stroke="#fff" stroke-width="4.0"/>
<path d="M422,412 C398,412 378,406 359,397" fill="none" stroke="#fff" stroke-width="4.5"/>
<path d="M160,459.7 C180,459.7 198,452 209,440" fill="none" stroke="#fff" stroke-width="3.6"/>
<path d="M411.25,127.90 C317.80,130.10 211.90,135.00 139.50,165.20" fill="none" stroke="#3c3935" stroke-width="1.4"/>
<path d="M136.7,166.4 L142.7,161.1 L144.7,165.9 Z" fill="#3c3935"/>
<path d="M411.25,127.9 C370,135 320,152 292.5,174.5" fill="none" stroke="#3c3935" stroke-width="1.4"/>
<path d="M289.7,177.5 L291.8,169.9 L296.1,172.8 Z" fill="#3c3935"/>
<path d="M485.30,157.70 C521.80,221.70 542.00,254.30 601.50,273.80" fill="none" stroke="#3c3935" stroke-width="1.4"/>
<path d="M604.4,274.7 L596.4,274.9 L598.0,269.9 Z" fill="#3c3935"/>
<path d="M365.40,222.30 C285.20,223.90 239.30,225.20 180.50,271.50" fill="none" stroke="#3c3935" stroke-width="1.4"/>
<path d="M178.1,273.4 L182.4,266.7 L185.6,270.8 Z" fill="#3c3935"/>
<path d="M365.40,222.30 C274.90,227.20 258.80,247.60 231.00,271.50" fill="none" stroke="#3c3935" stroke-width="1.4"/>
<path d="M228.7,273.5 L232.7,266.6 L236.1,270.5 Z" fill="#3c3935"/>
<path d="M365.40,222.30 C335.20,223.50 295.60,240.80 283.80,271.50" fill="none" stroke="#3c3935" stroke-width="1.4"/>
<path d="M282.7,274.3 L283.0,266.4 L287.8,268.2 Z" fill="#3c3935"/>
<path d="M422,412 C398,412 378,406 362,398.5" fill="none" stroke="#3c3935" stroke-width="1.4"/>
<path d="M358.2,396.6 L366.1,397.7 L363.7,402.3 Z" fill="#3c3935"/>
<path d="M160,459.7 C180,459.7 198,452 209,440" fill="none" stroke="#3c3935" stroke-width="1.4"/>
<path d="M211.0,437.5 L207.9,444.8 L204.0,441.3 Z" fill="#3c3935"/>
<path d="M365.6,222.2 L346,221.2 L346,225.2 Z" fill="#3c3935"/>
<path d="M411.5,127.8 L394,127.2 L394,130.2 Z" fill="#3c3935"/>
<path d="M89,234 C103,232 116,229 127,226" fill="none" stroke="#3c3935" stroke-width="1.4"/>
<path d="M130.0,225.3 L123.4,229.7 L122.1,224.7 Z" fill="#3c3935"/>
<path d="M238,378.6 C255,378 272,375 284,371" fill="none" stroke="#3c3935" stroke-width="1.4"/>
<path d="M287.0,370.0 L280.6,374.7 L279.1,369.7 Z" fill="#3c3935"/>
<path d="M571.5,319.6 C585,320 597,323 604,327.5" fill="none" stroke="#3c3935" stroke-width="1.4"/>
<path d="M607.2,329.3 L599.4,327.9 L601.9,323.3 Z" fill="#3c3935"/>
<path d="M570.6,373.4 C590,372 608,368 620.5,364.6" fill="none" stroke="#3c3935" stroke-width="1.4"/>
<path d="M624.0,363.6 L617.4,368.1 L616.1,363.1 Z" fill="#3c3935"/>
<path d="M557,382.8 C562,425 590,450 622,458" fill="none" stroke="#3c3935" stroke-width="1.4"/>
<path d="M625.5,458.8 L617.6,459.1 L619.1,454.1 Z" fill="#3c3935"/>
<text x="264.0" y="27.1" font-family="Liberation Serif" font-size="22.9" font-weight="normal" fill="#333" stroke="#333" stroke-width="0.70" textLength="90.4" lengthAdjust="spacingAndGlyphs">Baluster</text>
<text x="364.4" y="27.1" font-family="Liberation Serif" font-size="22.9" font-weight="normal" fill="#333" stroke="#333" stroke-width="0.70" textLength="90.6" lengthAdjust="spacingAndGlyphs">Spacing</text>
<text x="166.2" y="57.0" font-family="Liberation Serif" font-size="15.3" font-weight="normal" fill="#333" stroke="#333" stroke-width="0.60" textLength="33.0" lengthAdjust="spacingAndGlyphs">Side</text>
<text x="203.8" y="57.0" font-family="Liberation Serif" font-size="15.3" font-weight="normal" fill="#333" stroke="#333" stroke-width="0.60" textLength="36.2" lengthAdjust="spacingAndGlyphs">View</text>
<text x="597.8" y="57.0" font-family="Liberation Serif" font-size="15.3" font-weight="normal" fill="#333" stroke="#333" stroke-width="0.60" textLength="38.4" lengthAdjust="spacingAndGlyphs">Front</text>
<text x="643.0" y="57.0" font-family="Liberation Serif" font-size="15.3" font-weight="normal" fill="#333" stroke="#333" stroke-width="0.60" textLength="35.0" lengthAdjust="spacingAndGlyphs">View</text>
<text x="416.0" y="132.5" font-family="Liberation Sans" font-size="17.3" font-weight="normal" fill="#454545" stroke="#454545" stroke-width="0.55" textLength="114.2" lengthAdjust="spacingAndGlyphs">First baluster aligned with</text>
<text x="416.6" y="149.2" font-family="Liberation Sans" font-size="17.3" font-weight="normal" fill="#454545" stroke="#454545" stroke-width="0.55" textLength="98.0" lengthAdjust="spacingAndGlyphs">skirt/riser intersection</text>
<text x="372.6" y="225.8" font-family="Liberation Sans" font-size="17.3" font-weight="normal" fill="#454545" stroke="#454545" stroke-width="0.55" textLength="83.4" lengthAdjust="spacingAndGlyphs">Balusters centered</text>
<text x="373.6" y="243.2" font-family="Liberation Sans" font-size="17.3" font-weight="normal" fill="#454545" stroke="#454545" stroke-width="0.55" textLength="69.8" lengthAdjust="spacingAndGlyphs">on ⅓ of unit run</text>
<text x="64.2" y="238.9" font-family="Liberation Sans" font-size="17.3" font-weight="normal" fill="#454545" stroke="#454545" stroke-width="0.55" textLength="20.8" lengthAdjust="spacingAndGlyphs">Edge</text>
<text x="64.2" y="256.1" font-family="Liberation Sans" font-size="17.3" font-weight="normal" fill="#454545" stroke="#454545" stroke-width="0.55" textLength="30.0" lengthAdjust="spacingAndGlyphs">of riser</text>
<text x="167.0" y="346.6" font-family="Liberation Sans" font-size="17.3" font-weight="normal" fill="#454545" stroke="#454545" stroke-width="0.55" textLength="85.2" lengthAdjust="spacingAndGlyphs">Unit run of tread 10″</text>
<text x="179.2" y="384.9" font-family="Liberation Sans" font-size="17.3" font-weight="normal" fill="#454545" stroke="#454545" stroke-width="0.55" textLength="54.6" lengthAdjust="spacingAndGlyphs">Edge of riser</text>
<text x="424.8" y="418.3" font-family="Liberation Sans" font-size="17.3" font-weight="normal" fill="#454545" stroke="#454545" stroke-width="0.55" textLength="24.2" lengthAdjust="spacingAndGlyphs">Tread</text>
<text x="113.6" y="463.5" font-family="Liberation Sans" font-size="17.3" font-weight="normal" fill="#454545" stroke="#454545" stroke-width="0.55" textLength="43.4" lengthAdjust="spacingAndGlyphs">Face skirt</text>
<text x="492.2" y="326.0" font-family="Liberation Sans" font-size="17.3" font-weight="normal" fill="#454545" stroke="#454545" stroke-width="0.55" textLength="75.4" lengthAdjust="spacingAndGlyphs">Edge of face skirt</text>
<text x="543.0" y="377.3" font-family="Liberation Sans" font-size="17.3" font-weight="normal" fill="#454545" stroke="#454545" stroke-width="0.55" textLength="21.8" lengthAdjust="spacingAndGlyphs">Riser</text>
</svg>
</body></html>
